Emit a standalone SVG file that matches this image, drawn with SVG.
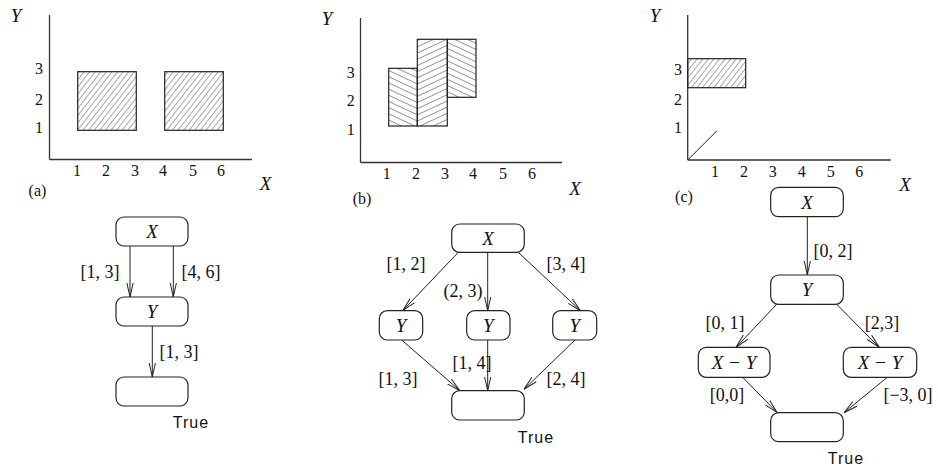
<svg xmlns="http://www.w3.org/2000/svg" width="938" height="469" viewBox="0 0 938 469">
<style>
.ax{stroke:#333;stroke-width:1.3;fill:none}
.m{font-family:"Liberation Serif",serif;font-size:16px;fill:#111;text-anchor:middle}
.lb{font-family:"Liberation Serif",serif;font-size:18px;fill:#111;text-anchor:middle}
.it{font-family:"Liberation Serif",serif;font-size:19px;font-style:italic;fill:#111;text-anchor:middle}
.tr{font-family:"Liberation Sans",sans-serif;font-size:16px;letter-spacing:1px;fill:#111;text-anchor:middle}
.node{fill:#fff;stroke:#222;stroke-width:1.2}
.edge{stroke:#222;stroke-width:1;fill:none;marker-end:url(#arr)}
</style>
<defs>
<marker id="arr" markerWidth="16" markerHeight="8" refX="14" refY="4" orient="auto" markerUnits="userSpaceOnUse">
<path d="M0,0.9 L14,4 L0,7.1" fill="none" stroke="#222" stroke-width="1"/>
</marker>
<pattern id="hA" width="4.4" height="10" patternUnits="userSpaceOnUse" patternTransform="rotate(38)">
<line x1="0" y1="0" x2="0" y2="10" stroke="#555" stroke-width="1"/>
</pattern>
<pattern id="hB1" width="10" height="5.6" patternUnits="userSpaceOnUse" patternTransform="rotate(25)">
<line x1="0" y1="0" x2="10" y2="0" stroke="#333" stroke-width="1"/>
</pattern>
<pattern id="hB2" width="10" height="5.6" patternUnits="userSpaceOnUse" patternTransform="rotate(-25)">
<line x1="0" y1="0" x2="10" y2="0" stroke="#333" stroke-width="1"/>
</pattern>
</defs>

<g id="panel-a">
<line class="ax" x1="49.5" y1="15" x2="49.5" y2="159.5"/>
<line class="ax" x1="49.5" y1="159.5" x2="252" y2="159.5"/>
<text class="it" x="16" y="22">Y</text>
<text class="m" x="39" y="74">3</text>
<text class="m" x="39" y="105">2</text>
<text class="m" x="39" y="133">1</text>
<rect x="77.7" y="71.7" width="58.6" height="58.6" fill="url(#hA)" stroke="#222" stroke-width="1.2"/>
<rect x="164.7" y="71.7" width="58.6" height="58.6" fill="url(#hA)" stroke="#222" stroke-width="1.2"/>
<text class="m" x="77" y="176">1</text>
<text class="m" x="106" y="176">2</text>
<text class="m" x="135" y="176">3</text>
<text class="m" x="163" y="176">4</text>
<text class="m" x="193" y="176">5</text>
<text class="m" x="221" y="176">6</text>
<text class="it" x="265.5" y="190">X</text>
<text class="m" x="37.5" y="196">(a)</text>
</g>

<g id="panel-b">
<line class="ax" x1="360.5" y1="18" x2="360.5" y2="162.5"/>
<line class="ax" x1="360.5" y1="162.5" x2="562" y2="162.5"/>
<text class="it" x="327" y="25">Y</text>
<text class="m" x="350.7" y="78">3</text>
<text class="m" x="350.7" y="106">2</text>
<text class="m" x="350.7" y="135">1</text>
<rect x="388.7" y="68.3" width="28.6" height="57.7" fill="url(#hB1)" stroke="#222" stroke-width="1.2"/>
<rect x="417.3" y="39.3" width="30" height="86.7" fill="url(#hB2)" stroke="#222" stroke-width="1.2"/>
<rect x="447.3" y="39.3" width="28.7" height="58" fill="url(#hB1)" stroke="#222" stroke-width="1.2"/>
<text class="m" x="386.7" y="179">1</text>
<text class="m" x="416" y="179">2</text>
<text class="m" x="445" y="179">3</text>
<text class="m" x="473" y="179">4</text>
<text class="m" x="503" y="179">5</text>
<text class="m" x="532" y="179">6</text>
<text class="it" x="575" y="195">X</text>
<text class="m" x="362" y="204">(b)</text>
</g>

<g id="panel-c">
<line class="ax" x1="687.7" y1="15" x2="687.7" y2="160"/>
<line class="ax" x1="687.7" y1="160" x2="890.7" y2="160"/>
<text class="it" x="655" y="22">Y</text>
<text class="m" x="678" y="75">3</text>
<text class="m" x="678" y="105">2</text>
<text class="m" x="678" y="133">1</text>
<rect x="687.7" y="58.7" width="58" height="29" fill="url(#hA)" stroke="#222" stroke-width="1.2"/>
<line x1="687.7" y1="160" x2="716.7" y2="131" stroke="#222" stroke-width="1"/>
<text class="m" x="715" y="177">1</text>
<text class="m" x="744" y="177">2</text>
<text class="m" x="772.7" y="177">3</text>
<text class="m" x="801.7" y="177">4</text>
<text class="m" x="830.7" y="177">5</text>
<text class="m" x="859.3" y="177">6</text>
<text class="it" x="905" y="191">X</text>
<text class="m" x="684" y="202">(c)</text>
</g>

<g id="connectors">
<line class="edge" x1="130" y1="246" x2="130" y2="297"/>
<line class="edge" x1="173.3" y1="246" x2="173.3" y2="297"/>
<line class="edge" x1="152.3" y1="326" x2="152.3" y2="377"/>
<line class="edge" x1="458.3" y1="252.3" x2="402.7" y2="310.7"/>
<line class="edge" x1="487.7" y1="252.3" x2="487.7" y2="310.7"/>
<line class="edge" x1="518.3" y1="252.3" x2="580.5" y2="310.7"/>
<line class="edge" x1="401.7" y1="340" x2="460" y2="390.7"/>
<line class="edge" x1="487.7" y1="340" x2="487.7" y2="390.7"/>
<line class="edge" x1="575" y1="340" x2="524" y2="389.3"/>
<line class="edge" x1="807.3" y1="216.7" x2="807.3" y2="275"/>
<line class="edge" x1="776.7" y1="304.3" x2="736" y2="347.3"/>
<line class="edge" x1="836.7" y1="304.3" x2="879.3" y2="347.3"/>
<line class="edge" x1="742.7" y1="377.3" x2="777.3" y2="412.7"/>
<line class="edge" x1="887.3" y1="377.3" x2="844" y2="412.7"/>
<text class="lb" x="100" y="278">[1, 3]</text>
<text class="lb" x="201" y="278">[4, 6]</text>
<text class="lb" x="179" y="358">[1, 3]</text>
<text class="lb" x="406" y="270">[1, 2]</text>
<text class="lb" x="463" y="297">(2, 3)</text>
<text class="lb" x="566" y="270">[3, 4]</text>
<text class="lb" x="398" y="385">[1, 3]</text>
<text class="lb" x="472" y="369">[1, 4]</text>
<text class="lb" x="566" y="385">[2, 4]</text>
<text class="lb" x="833" y="257">[0, 2]</text>
<text class="lb" x="725" y="329">[0, 1]</text>
<text class="lb" x="882" y="329">[2,3]</text>
<text class="lb" x="727" y="401">[0,0]</text>
<text class="lb" x="908" y="401">[−3, 0]</text>
</g>

<g id="a-X"><rect class="node" x="116" y="217" width="72" height="29" rx="8"/><text class="it" x="152" y="238">X</text></g>
<g id="a-Y"><rect class="node" x="116" y="297" width="72" height="29" rx="8"/><text class="it" x="152" y="318">Y</text></g>
<g id="a-T"><rect class="node" x="116" y="377" width="72" height="29" rx="8"/><text class="tr" x="191" y="428">True</text></g>

<g id="b-X"><rect class="node" x="451.7" y="224" width="72.6" height="28.3" rx="8"/><text class="it" x="488" y="245">X</text></g>
<g id="b-Y1"><rect class="node" x="379.3" y="310.7" width="43.4" height="29.3" rx="8"/><text class="it" x="401" y="332">Y</text></g>
<g id="b-Y2"><rect class="node" x="466.7" y="310.7" width="43.3" height="29.3" rx="8"/><text class="it" x="488.3" y="332">Y</text></g>
<g id="b-Y3"><rect class="node" x="552.7" y="310.7" width="44" height="29.3" rx="8"/><text class="it" x="574.7" y="332">Y</text></g>
<g id="b-T"><rect class="node" x="451.7" y="390.7" width="72.6" height="29.3" rx="8"/><text class="tr" x="536" y="443">True</text></g>

<g id="c-X"><rect class="node" x="770.7" y="187.3" width="72.6" height="29.4" rx="8"/><text class="it" x="807" y="209">X</text></g>
<g id="c-Y"><rect class="node" x="770.7" y="275" width="72.6" height="29.3" rx="8"/><text class="it" x="807" y="296">Y</text></g>
<g id="c-XY1"><rect class="node" x="698.3" y="347.3" width="71.7" height="30" rx="8"/><text class="it" x="734" y="369">X − Y</text></g>
<g id="c-XY2"><rect class="node" x="843.3" y="347.3" width="73.4" height="30" rx="8"/><text class="it" x="880" y="369">X − Y</text></g>
<g id="c-T"><rect class="node" x="770.7" y="412.7" width="72.6" height="29" rx="8"/><text class="tr" x="846" y="464">True</text></g>
</svg>
